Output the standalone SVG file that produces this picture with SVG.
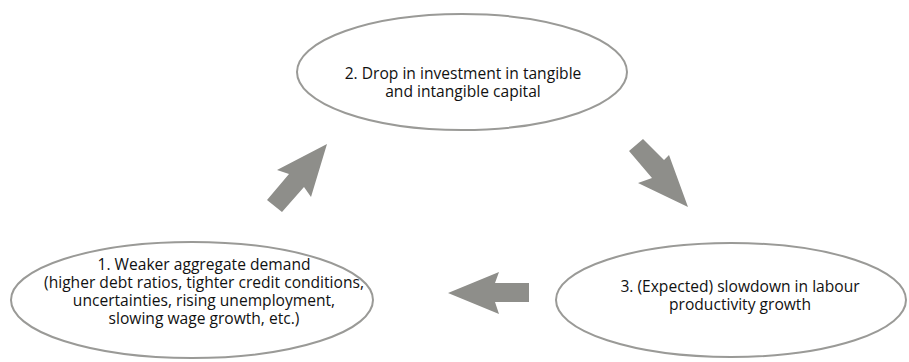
<svg xmlns="http://www.w3.org/2000/svg" width="909" height="362" viewBox="0 0 909 362">
  <style>
    .node ellipse { fill: #ffffff; stroke: #9a9a97; stroke-width: 2; }
    .node text { font-family: "Open Sans", "Liberation Sans", sans-serif; font-size: 15.6px; fill: #111111; text-anchor: middle; }
    .arrow { fill: #8e8e8a; stroke: none; }
  </style>
  <rect width="909" height="362" fill="#ffffff"/>

  <!-- cycle step 2 (top) -->
  <g id="node-investment" class="node">
    <ellipse cx="462" cy="72" rx="165" ry="58"/>
    <text x="463" y="79">2. Drop in investment in tangible</text>
    <text x="463" y="97">and intangible capital</text>
  </g>

  <!-- cycle step 1 (bottom left) -->
  <g id="node-demand" class="node">
    <ellipse cx="192" cy="300" rx="181" ry="58"/>
    <text x="204" y="270">1. Weaker aggregate demand</text>
    <text x="204" y="288">(higher debt ratios, tighter credit conditions,</text>
    <text x="204" y="306">uncertainties, rising unemployment,</text>
    <text x="204" y="324">slowing wage growth, etc.)</text>
  </g>

  <!-- cycle step 3 (bottom right) -->
  <g id="node-productivity" class="node">
    <ellipse cx="731" cy="300" rx="175" ry="57"/>
    <text x="740" y="292">3. (Expected) slowdown in labour</text>
    <text x="740" y="310">productivity growth</text>
  </g>

  <!-- block arrows linking the steps -->
  <g id="connectors">
    <polygon class="arrow" points="267,200 289,174 277,170 327,144 311,197 304,187 282,212"/>
    <polygon class="arrow" points="643,139 664,160 669,155 688,207 638,183 652,178 629,151"/>
    <polygon class="arrow" points="529,283 495,283 499,272 448,293 499,314 495,302 529,302"/>
  </g>
</svg>
